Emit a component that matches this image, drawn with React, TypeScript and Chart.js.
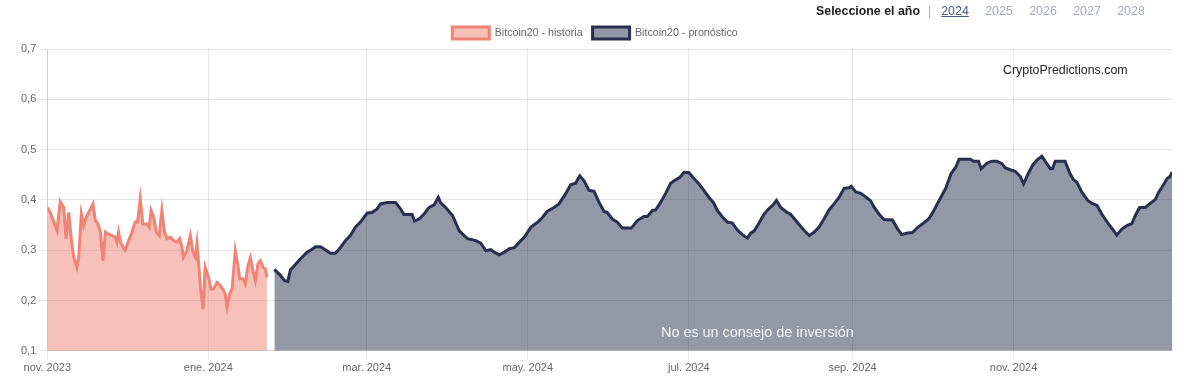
import React, { useEffect, useRef } from "react";
import { Chart, registerables } from "chart.js";

Chart.register(...registerables);

// Day index counted from 1 Nov 2023
const tickDays = [0, 61, 121, 182, 243, 305, 366];
const tickLabels = ["nov. 2023", "ene. 2024", "mar. 2024", "may. 2024", "jul. 2024", "sep. 2024", "nov. 2024"];
const years = ["2024", "2025", "2026", "2027", "2028"];

const histDays = [
  0, 1.1, 2.4, 3.7, 4.9, 6.2, 7.1, 8.1, 9.0, 10.0, 11.2, 11.9, 12.9, 13.8, 14.8, 15.7, 17.3, 18.2, 19.2, 20.1,
  21.1, 22.0, 23.2, 24.5, 25.8, 26.4, 27.0, 27.7, 28.7, 29.5, 30.8, 32.1, 33.3, 34.2, 35.2, 36.2, 37.8, 38.6, 39.3, 40.3,
  41.3, 42.4, 43.4, 44.3, 45.3, 46.6, 47.9, 49.1, 50.1, 51.0, 51.6, 52.9, 54.2, 55.2, 56.1, 56.7, 57.3, 58.0, 59.0, 59.8,
  61.1, 62.0, 63.0, 64.3, 65.5, 66.8, 67.4, 68.1, 69.1, 70.0, 71.2, 72.1, 72.9, 74.1, 75.0, 75.9, 76.9, 77.9, 78.8, 79.8,
  80.7, 81.7, 82.6, 83.2,
];
const histValues = [
  0.385, 0.375, 0.358, 0.339, 0.397, 0.385, 0.323, 0.375, 0.326, 0.286, 0.266, 0.286, 0.372, 0.349, 0.366, 0.375, 0.392, 0.359, 0.352, 0.336,
  0.279, 0.336, 0.332, 0.329, 0.326, 0.316, 0.336, 0.316, 0.306, 0.3, 0.319, 0.336, 0.356, 0.356, 0.402, 0.352, 0.352, 0.346, 0.379, 0.366,
  0.336, 0.329, 0.379, 0.339, 0.323, 0.326, 0.319, 0.316, 0.323, 0.306, 0.286, 0.299, 0.329, 0.296, 0.286, 0.313, 0.276, 0.226, 0.183, 0.266,
  0.246, 0.223, 0.223, 0.236, 0.23, 0.22, 0.213, 0.187, 0.213, 0.223, 0.299, 0.273, 0.243, 0.243, 0.233, 0.266, 0.285, 0.26, 0.24, 0.273,
  0.279, 0.266, 0.263, 0.246,
];

const fcDays = [
  86.0, 88.3, 89.8, 91.1, 92.1, 93.4, 95.9, 98.4, 100.0, 101.6, 103.5, 105.3, 107.2, 109.1, 111.0, 112.9, 114.8, 116.7, 118.6, 121.2,
  123.0, 124.9, 126.2, 128.7, 131.9, 133.8, 135.1, 138.2, 139.1, 140.8, 142.7, 144.6, 146.5, 148.1, 149.0, 150.9, 153.5, 156.0, 157.9, 159.2,
  162.3, 164.2, 166.1, 168.0, 169.3, 171.2, 173.1, 175.0, 176.9, 178.8, 180.7, 183.2, 185.8, 187.7, 189.3, 191.9, 193.8, 196.3, 198.2, 200.1,
  201.7, 203.3, 205.2, 207.1, 209.0, 210.9, 212.1, 214.0, 215.9, 217.8, 219.7, 221.2, 223.5, 226.0, 227.3, 229.2, 230.4, 232.3, 234.2, 236.1,
  238.0, 239.6, 241.2, 243.1, 245.0, 246.8, 248.7, 250.6, 252.3, 253.8, 255.7, 257.6, 259.5, 261.4, 263.3, 265.2, 266.4, 267.7, 269.6, 271.5,
  272.8, 274.7, 276.2, 277.8, 279.7, 281.6, 283.5, 285.4, 286.7, 288.6, 290.5, 292.3, 294.2, 296.1, 298.0, 299.9, 301.8, 303.6, 304.5, 306.2,
  308.1, 310.0, 311.9, 313.1, 315.0, 316.9, 320.1, 322.0, 323.6, 325.8, 327.7, 329.6, 331.9, 334.0, 335.9, 337.8, 340.3, 342.3, 344.2, 345.3,
  349.6, 350.8, 352.7, 353.7, 355.9, 357.8, 359.7, 361.6, 362.8, 364.7, 366.6, 368.5, 369.8, 371.7, 373.2, 374.8, 376.7, 378.2, 379.9, 380.7,
  381.8, 385.5, 387.4, 388.7, 390.0, 391.9, 394.1, 395.7, 397.6, 399.4, 402.0, 403.9, 405.1, 407.0, 408.9, 410.8, 412.1, 413.7, 415.9, 417.8,
  419.7, 420.9, 422.8, 424.1, 425.3, 426.0,
];
const fcValues = [
  0.262, 0.25, 0.24, 0.238, 0.261, 0.268, 0.283, 0.296, 0.301, 0.307, 0.307, 0.301, 0.294, 0.294, 0.305, 0.319, 0.329, 0.346, 0.356, 0.374,
  0.375, 0.382, 0.392, 0.395, 0.395, 0.382, 0.371, 0.371, 0.358, 0.362, 0.372, 0.385, 0.39, 0.405, 0.394, 0.385, 0.369, 0.339, 0.329, 0.323,
  0.319, 0.314, 0.299, 0.301, 0.296, 0.291, 0.296, 0.303, 0.305, 0.316, 0.326, 0.346, 0.356, 0.366, 0.377, 0.385, 0.392, 0.412, 0.43, 0.433,
  0.448, 0.438, 0.419, 0.417, 0.395, 0.377, 0.375, 0.362, 0.356, 0.344, 0.344, 0.344, 0.359, 0.367, 0.367, 0.379, 0.38, 0.395, 0.413, 0.433,
  0.44, 0.445, 0.455, 0.454, 0.442, 0.432, 0.419, 0.405, 0.395, 0.379, 0.366, 0.356, 0.354, 0.34, 0.331, 0.324, 0.334, 0.338, 0.354, 0.372,
  0.38, 0.389, 0.399, 0.385, 0.377, 0.371, 0.359, 0.347, 0.339, 0.329, 0.336, 0.346, 0.362, 0.38, 0.392, 0.405, 0.423, 0.424, 0.427, 0.416,
  0.413, 0.406, 0.398, 0.386, 0.372, 0.361, 0.36, 0.343, 0.331, 0.334, 0.335, 0.345, 0.354, 0.363, 0.38, 0.399, 0.423, 0.452, 0.466, 0.481,
  0.481, 0.477, 0.477, 0.462, 0.473, 0.477, 0.477, 0.472, 0.464, 0.46, 0.457, 0.447, 0.432, 0.454, 0.469, 0.479, 0.487, 0.475, 0.462, 0.462,
  0.477, 0.477, 0.452, 0.44, 0.435, 0.415, 0.399, 0.393, 0.389, 0.372, 0.352, 0.339, 0.33, 0.342, 0.349, 0.353, 0.369, 0.385, 0.385, 0.393,
  0.401, 0.415, 0.43, 0.442, 0.447, 0.455,
];

const FONT = "'Liberation Sans', Arial, Helvetica, sans-serif";

export default function App() {
  const ref = useRef<HTMLCanvasElement | null>(null);

  useEffect(() => {
    if (!ref.current) return;
    const chart = new Chart(ref.current, {
      type: "line",
      data: {
        datasets: [
          {
            label: "Bitcoin20 - historia",
            data: histDays.map((d, i) => ({ x: d, y: histValues[i] })),
            borderColor: "rgb(239,131,118)",
            backgroundColor: "rgba(239,131,118,0.5)",
            borderWidth: 3,
            pointRadius: 0,
            fill: "start",
            tension: 0,
          },
          {
            label: "Bitcoin20 - pronóstico",
            data: fcDays.map((d, i) => ({ x: d, y: fcValues[i] })),
            borderColor: "rgb(40,48,78)",
            backgroundColor: "rgba(40,48,78,0.5)",
            borderWidth: 3,
            pointRadius: 0,
            fill: "start",
            tension: 0,
          },
        ],
      },
      options: {
        responsive: false,
        animation: false,
        layout: { padding: { top: 17, right: 28, left: 18, bottom: 0 } },
        plugins: {
          legend: {
            position: "top",
            labels: {
              boxWidth: 37,
              boxHeight: 12,
              color: "#666",
              font: { family: FONT, size: 10.7 },
              padding: 10,
            },
          },
          tooltip: { enabled: false },
        },
        scales: {
          x: {
            type: "linear",
            min: 0,
            max: 426,
            afterBuildTicks: (axis: any) => {
              axis.ticks = tickDays.map((v) => ({ value: v }));
            },
            ticks: {
              autoSkip: false,
              maxRotation: 0,
              color: "#666",
              font: { family: FONT, size: 11 },
              callback: (_v: any, i: number) => tickLabels[i],
            },
            grid: { color: "rgba(0,0,0,0.1)" },
          },
          y: {
            min: 0.1,
            max: 0.7,
            ticks: {
              stepSize: 0.1,
              color: "#666",
              font: { family: FONT, size: 11 },
              callback: (v: any) => Number(v).toFixed(1).replace(".", ","),
            },
            grid: { color: "rgba(0,0,0,0.1)" },
          },
        },
      },
    });
    return () => chart.destroy();
  }, []);

  return (
    <div style={{ position: "fixed", left: 0, top: 0, width: 1200, height: 378, background: "#fff", fontFamily: FONT }}>
      <canvas ref={ref} width={1200} height={378} style={{ display: "block" }} />
      <div style={{ position: "absolute", left: 816, top: 3, fontSize: 12.4, whiteSpace: "nowrap", lineHeight: "16px" }}>
        <span style={{ fontWeight: "bold", color: "#222" }}>Seleccione el año</span>
        <span style={{ color: "#b0b8c8", margin: "0 10px 0 8px" }}>|</span>
        {years.map((y, i) => (
          <span
            key={y}
            style={{
              display: "inline-block",
              width: 44,
              color: i === 0 ? "#4a5a8a" : "#a3abbb",
              textDecoration: i === 0 ? "underline" : "none",
            }}
          >
            {y}
          </span>
        ))}
      </div>
      <div style={{ position: "absolute", left: 1003, top: 63, fontSize: 12.4, color: "#222", whiteSpace: "nowrap" }}>
        CryptoPredictions.com
      </div>
      <div style={{ position: "absolute", left: 661, top: 324, fontSize: 14.4, color: "#f4f4f6", whiteSpace: "nowrap" }}>
        No es un consejo de inversión
      </div>
    </div>
  );
}
